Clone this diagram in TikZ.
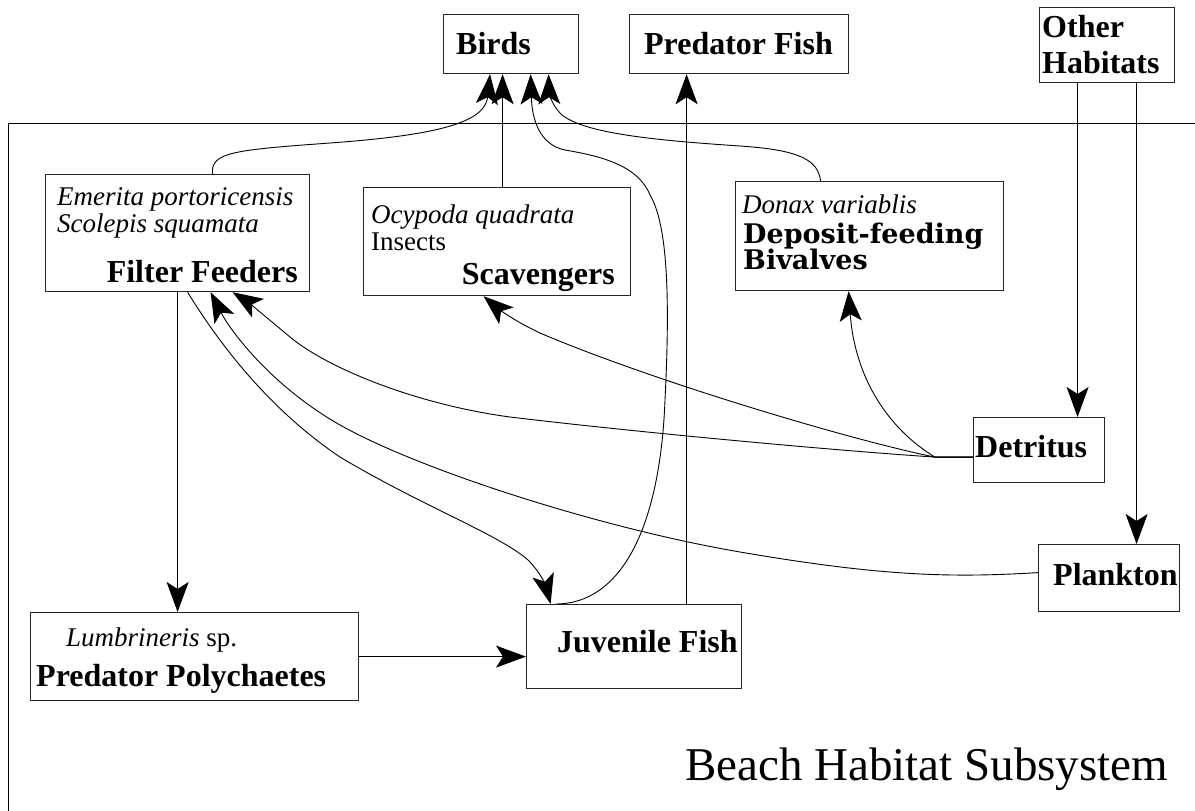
\documentclass[tikz,border=0pt]{standalone}
\usepackage{fontspec}
\setmainfont{Liberation Serif}
\newfontfamily\heavyfont{DejaVu Serif}
\usetikzlibrary{arrows.meta}
\newcommand{\grp}{\fontsize{32}{36}\selectfont\bfseries}
\newcommand{\taxon}{\fontsize{27}{30}\selectfont\itshape}
\newcommand{\plain}{\fontsize{27}{30}\selectfont}
\newcommand{\heavy}{\heavyfont\fontsize{27}{30}\selectfont\bfseries}

\tikzset{
  box/.style={draw=black!85, line width=1.2pt, anchor=north west, inner sep=0pt},
  txt/.style={inner sep=0pt, anchor=base west},
  flow/.style={-{Stealth[length=30pt,width=22pt,inset=7pt]}, line width=0.9pt},
}

\begin{document}
\begin{tikzpicture}[x=1pt,y=-1pt]
  \useasboundingbox (0,0) rectangle (1195,811);
  % subsystem frame
  \draw[line width=1pt] (8,811) -- (8,123) -- (1195,123);

  % boxes
  \node[box, minimum width=135pt, minimum height=59pt] (birds) at (443,14) {};
  \node[box, minimum width=219pt, minimum height=59pt] (predfish) at (629,14) {};
  \node[box, minimum width=135pt, minimum height=75pt] (other) at (1039,7) {};
  \node[box, minimum width=264pt, minimum height=117pt] (filter) at (45,174) {};
  \node[box, minimum width=267pt, minimum height=108pt] (scav) at (363,187) {};
  \node[box, minimum width=268pt, minimum height=109pt] (biv) at (735,181) {};
  \node[box, minimum width=131pt, minimum height=65pt] (detr) at (973,417) {};
  \node[box, minimum width=141pt, minimum height=67pt] (plank) at (1038,544) {};
  \node[box, minimum width=215pt, minimum height=84pt] (juv) at (526,604) {};
  \node[box, minimum width=328pt, minimum height=88pt] (poly) at (30,612) {};

  % labels
  \node[txt] (birdsname) at (456,54) {\grp Birds};
  \node[txt, anchor=base] (predfishname) at (738.5,54) {\grp Predator Fish};
  \node[txt] (othername) at (1042,37) {\grp Other};
  \node[txt] (othername2) at (1042,73) {\grp Habitats};
  \node[txt] (emerita) at (57,205) {\taxon Emerita portoricensis};
  \node[txt] (scolepis) at (57,232) {\taxon Scolepis squamata};
  \node[txt, anchor=base east] (filtername) at (298,282) {\grp Filter Feeders};
  \node[txt] (ocypoda) at (371,223) {\taxon Ocypoda quadrata};
  \node[txt] (insects) at (371,250) {\plain Insects};
  \node[txt, anchor=base east] (scavname) at (615,284) {\grp Scavengers};
  \node[txt] (donax) at (742,213) {\taxon Donax variablis};
  \node[txt] (bivname) at (743,243) {\heavy Deposit-feeding};
  \node[txt] (bivname2) at (743,269) {\heavy Bivalves};
  \node[txt] (detrname) at (975,457) {\grp Detritus};
  \node[txt] (plankname) at (1053,585) {\grp Plankton};
  \node[txt] (juvname) at (557,652) {\grp Juvenile Fish};
  \node[txt] (lumbri) at (66,646) {\taxon Lumbrineris\/ \upshape sp.};
  \node[txt] (polyname) at (36,686) {\grp Predator Polychaetes};
  \node[txt] (title) at (685,780) {\fontsize{47}{50}\selectfont Beach Habitat Subsystem};

  % flows up to the top predators
  \draw[flow] ([xshift=35pt]filter.north) .. controls (210,152) and (235,150) .. (330,143)
    .. controls (440,135) and (485,122) .. ([xshift=-21pt]birds.south);
  \draw[flow] ([xshift=5.5pt]scav.north) -- ([xshift=-8.5pt]birds.south);
  \draw[flow] ([xshift=-78.5pt]juv.north) .. controls (620,604) and (660,530) .. (665,400)
    .. controls (670,300) and (668,225) .. (650,195)
    .. controls (638,165) and (600,156) .. (565,150)
    .. controls (540,145) and (532,120) .. ([xshift=19.5pt]birds.south);
  \draw[flow] ([xshift=-49pt]biv.north) .. controls (818,160) and (800,150) .. (740,146)
    .. controls (650,140) and (585,133) .. (562,115)
    .. controls (552,106) and (549,92) .. ([xshift=37.5pt]birds.south);
  \draw[flow] ([xshift=52.5pt]juv.north) -- ([xshift=-52.5pt]predfish.south);

  % inputs from other habitats
  \draw[flow] ([xshift=-29.5pt]other.south) -- ([xshift=38.5pt]detr.north);
  \draw[flow] ([xshift=29.5pt]other.south) -- ([xshift=27.5pt]plank.north);

  % flows inside the beach
  \draw[flow] (filter.south) -- (filter.south |- poly.north);
  \draw[flow] (poly.east) -- (poly.east -| juv.west);
  \draw[flow] ([xshift=10pt]filter.south) .. controls (220,345) and (270,410) .. (340,457)
    .. controls (420,505) and (500,535) .. (528,560)
    .. controls (543,575) and (547,590) .. ([xshift=-83.5pt]juv.north);
  \draw[flow] ([yshift=5.5pt]plank.west) .. controls (950,578) and (880,576) .. (740,552)
    .. controls (600,528) and (420,470) .. (340,425)
    .. controls (270,385) and (230,330) .. ([xshift=33pt]filter.south);
  \draw[flow] ([yshift=-7pt]detr.west) -- ++(-38,0) .. controls (800,448) and (600,428) .. (510,417)
    .. controls (420,405) and (330,370) .. (290,337)
    .. controls (265,316) and (245,300) .. ([xshift=55pt]filter.south);
  \draw[flow] ([yshift=-7pt]detr.west) -- ++(-38,0) .. controls (850,440) and (650,380) .. (540,333)
    .. controls (512,320) and (495,306) .. ([xshift=-13.5pt]scav.south);
  \draw[flow] ([yshift=-7pt]detr.west) -- ++(-38,0) .. controls (890,430) and (855,380) .. ([xshift=-21pt]biv.south);
\end{tikzpicture}
\end{document}
